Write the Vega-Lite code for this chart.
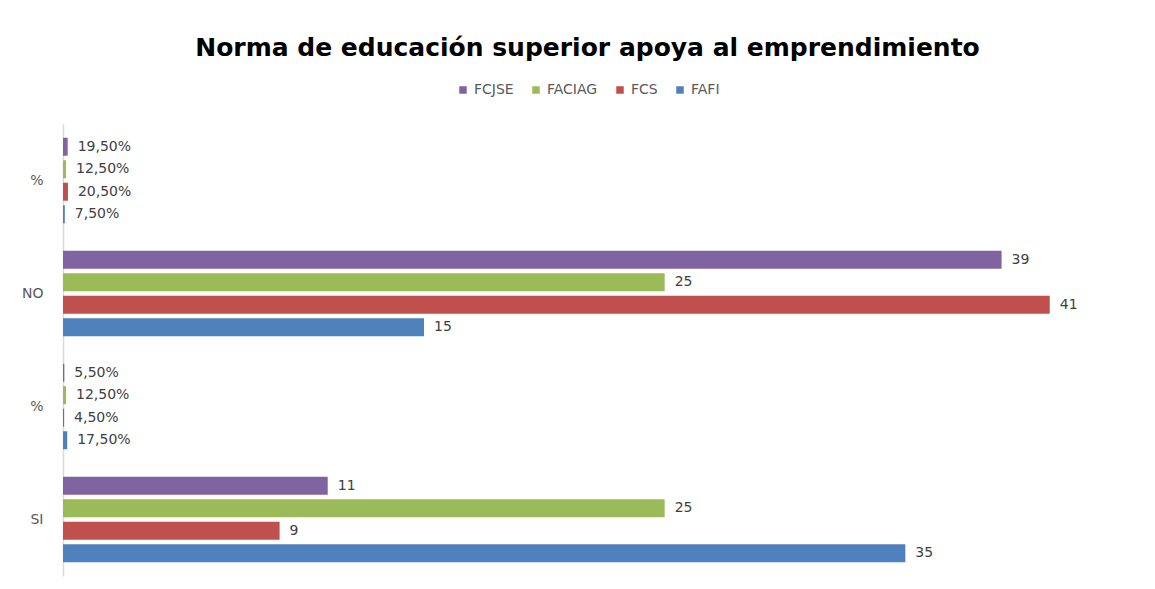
{
  "$schema": "https://vega.github.io/schema/vega-lite/v6.json",
  "width": 1083,
  "height": 452,
  "autosize": {"type": "none"},
  "padding": {"left": 63, "top": 124, "right": 9, "bottom": 13},
  "background": "white",
  "title": {
    "text": "Norma de educación superior apoya al emprendimiento",
    "font": "DejaVu Sans",
    "fontSize": 25,
    "fontWeight": "bold",
    "color": "#000000",
    "anchor": "middle",
    "dx": -17,
    "offset": 22
  },
  "data": {
    "values": [
      {"cat": "P1", "fac": "FCJSE", "value": 0.195, "label": "19,50%"},
      {"cat": "P1", "fac": "FACIAG", "value": 0.125, "label": "12,50%"},
      {"cat": "P1", "fac": "FCS", "value": 0.205, "label": "20,50%"},
      {"cat": "P1", "fac": "FAFI", "value": 0.075, "label": "7,50%"},
      {"cat": "NO", "fac": "FCJSE", "value": 39, "label": "39"},
      {"cat": "NO", "fac": "FACIAG", "value": 25, "label": "25"},
      {"cat": "NO", "fac": "FCS", "value": 41, "label": "41"},
      {"cat": "NO", "fac": "FAFI", "value": 15, "label": "15"},
      {"cat": "P2", "fac": "FCJSE", "value": 0.055, "label": "5,50%"},
      {"cat": "P2", "fac": "FACIAG", "value": 0.125, "label": "12,50%"},
      {"cat": "P2", "fac": "FCS", "value": 0.045, "label": "4,50%"},
      {"cat": "P2", "fac": "FAFI", "value": 0.175, "label": "17,50%"},
      {"cat": "SI", "fac": "FCJSE", "value": 11, "label": "11"},
      {"cat": "SI", "fac": "FACIAG", "value": 25, "label": "25"},
      {"cat": "SI", "fac": "FCS", "value": 9, "label": "9"},
      {"cat": "SI", "fac": "FAFI", "value": 35, "label": "35"}
    ]
  },
  "encoding": {
    "y": {
      "field": "cat",
      "type": "nominal",
      "sort": ["P1", "NO", "P2", "SI"],
      "scale": {"paddingInner": 0, "paddingOuter": 0},
      "axis": {
        "title": null,
        "labelExpr": "datum.value == 'P1' || datum.value == 'P2' ? '%' : datum.value",
        "ticks": false,
        "domainColor": "#D9D9D9",
        "domainWidth": 1.5,
        "labelColor": "#595959",
        "labelFont": "DejaVu Sans",
        "labelFontSize": 14,
        "labelPadding": 20
      }
    },
    "yOffset": {
      "field": "fac",
      "type": "nominal",
      "sort": ["FCJSE", "FACIAG", "FCS", "FAFI"],
      "scale": {"paddingInner": 0.2, "paddingOuter": 0.611}
    },
    "x": {
      "field": "value",
      "type": "quantitative",
      "scale": {"domain": [0, 45], "nice": false},
      "axis": null
    }
  },
  "layer": [
    {
      "mark": {"type": "bar"},
      "encoding": {
        "color": {
          "field": "fac",
          "type": "nominal",
          "sort": ["FCJSE", "FACIAG", "FCS", "FAFI"],
          "scale": {
            "domain": ["FCJSE", "FACIAG", "FCS", "FAFI"],
            "range": ["#8064A2", "#9BBB59", "#C0504D", "#4F81BD"]
          },
          "legend": {
            "title": null,
            "orient": "none",
            "direction": "horizontal",
            "legendX": 393,
            "legendY": -41,
            "symbolType": "square",
            "symbolSize": 56,
            "symbolStrokeWidth": 0,
            "labelColor": "#595959",
            "labelFont": "DejaVu Sans",
            "labelFontSize": 14,
            "columnPadding": 15,
            "labelOffset": 4
          }
        }
      }
    },
    {
      "mark": {
        "type": "text",
        "align": "left",
        "baseline": "middle",
        "dx": 10,
        "font": "DejaVu Sans",
        "fontSize": 14,
        "color": "#404040"
      },
      "encoding": {
        "text": {"field": "label", "type": "nominal"}
      }
    }
  ],
  "config": {
    "view": {"stroke": null}
  }
}
